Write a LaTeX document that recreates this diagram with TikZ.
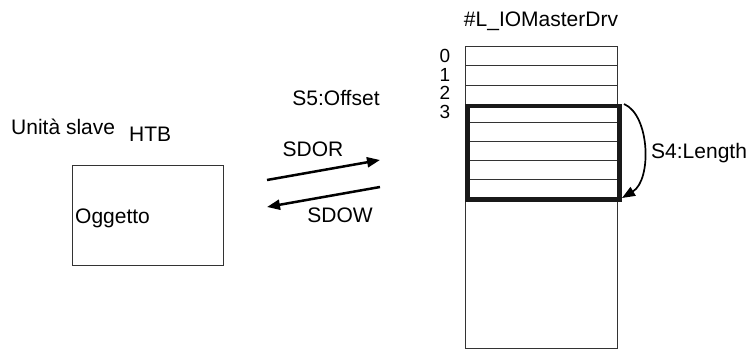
\documentclass[tikz,border=0pt]{standalone}
\usepackage{fontspec}
\setmainfont{Liberation Sans}
\usetikzlibrary{arrows.meta,positioning,calc}

\tikzset{
  txt/.style={font=\fontsize{21}{24}\selectfont,inner sep=0pt},
  idx/.style={font=\fontsize{19}{21}\selectfont,inner sep=0pt,anchor=base},
  thinline/.style={draw=black!80,line width=0.9pt},
  sdo/.style={line width=2.5pt,-{Triangle[length=13pt,width=10pt]}}
}

\begin{document}
\begin{tikzpicture}[x=1pt,y=-1pt]
\useasboundingbox (0,0) rectangle (752,350);
% slave side
\node[txt,anchor=base west] (slave) at (11,135) {Unità slave};
\node[txt,anchor=base west] (htb) at (129,142) {HTB};
\node[thinline,minimum width=151pt,minimum height=100pt,anchor=north west,inner sep=0pt] (obj) at (72,165) {};
\node[txt,anchor=base west] (objtxt) at (75,223) {Oggetto};
% SDO transfers
\coordinate (rdA) at (267,180);
\coordinate (rdB) at (380,160);
\coordinate (wrA) at (380,187);
\coordinate (wrB) at (267,207);
\draw[sdo] (rdA) -- (rdB);
\draw[sdo] (wrA) -- (wrB);
\node[txt,anchor=base] (sdor) at (313,157) {SDOR};
\node[txt,anchor=base] (sdow) at (340,222) {SDOW};
\node[txt,anchor=base] (offset) at (336,106) {S5:Offset};
% master buffer
\node[txt,anchor=base] (title) at (541,27) {\#L\_IOMasterDrv};
\node[thinline,minimum width=152pt,minimum height=302pt,anchor=north west,inner sep=0pt] (buf) at (465,46) {};
\foreach \y in {65,85,122,141,160,179}
  \draw[thinline] (465,\y) -- (617,\y);
\node[draw=black!90,line width=4.5pt,minimum width=152pt,minimum height=93pt,anchor=north west,inner sep=0pt] (win) at (465,104) {};
\foreach \n/\y in {0/63,1/81.5,2/100,3/118.5}
  \node[idx] (i\n) at (445,\y) {\n};
% length of the window
\coordinate (lenA) at (624,104);
\coordinate (lenB) at (622,198);
\draw[line width=1.7pt,-{Triangle[length=13pt,width=10pt]}] (lenA) .. controls (650,115) and (652,180) .. (lenB);
\node[txt,anchor=base west] (len) at (651,158) {S4:Length};
\end{tikzpicture}
\end{document}
